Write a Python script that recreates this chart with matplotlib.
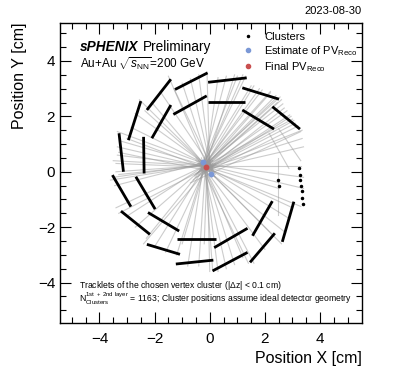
import matplotlib
matplotlib.use("Agg")
import matplotlib.pyplot as plt

plt.rcParams['font.family'] = ['Liberation Sans', 'DejaVu Sans']
plt.rcParams['mathtext.fontset'] = 'custom'
plt.rcParams['mathtext.rm'] = 'Liberation Sans'
plt.rcParams['mathtext.it'] = 'Liberation Sans:italic'
plt.rcParams['mathtext.bf'] = 'Liberation Sans:bold'

# ---------------- cluster ladders (x0, y0, x1, y1) in cm ----------------
lad_x0 = [-1.26, -2.28, -1.32, -2.10, -2.95, -3.29, -2.40, -3.53, -2.68, -3.22, -2.24, -2.28,
          -1.20, -1.23, 0.16, 0.10, 1.55, 1.46, 2.63, -0.06, -0.08, 1.18, 1.18, 2.27]
lad_y0 = [2.97, 2.23, 2.07, 1.21, 1.14, 1.39, 1.26, -0.12, -0.18, -1.42, -1.47, -2.62,
          -2.43, -3.33, -2.74, -3.58, -2.31, -3.27, -2.53, 3.23, 2.51, 3.03, 2.23, 2.35]
lad_x1 = [-0.08, -1.41, -0.11, -1.41, -2.50, -3.13, -2.38, -2.86, -1.98, -2.17, -1.11, -1.08,
          0.22, 0.13, 1.37, 1.37, 2.27, 2.36, 3.05, 1.34, 1.27, 2.51, 2.33, 3.27]
lad_y1 = [3.57, 3.34, 2.74, 2.41, 2.55, 0.00, -0.06, -1.26, -1.35, -2.26, -2.14, -2.98,
          -2.43, -3.19, -2.04, -2.91, -1.06, -2.22, -1.08, 3.39, 2.51, 2.62, 1.54, 1.54]

# isolated clusters
iso_x = [3.24, 3.26, 3.28, 3.30, 3.33, 3.36, 3.39, 2.49, 2.51]
iso_y = [0.12, -0.10, -0.30, -0.50, -0.70, -0.95, -1.18, -0.30, -0.52]

# ---------------- tracklets (start -> end) ----------------
trk_x0 = [-0.3, -0.2, -0.4, -0.2, -0.5, -0.1, -0.3, -0.6, -0.2, -0.4, -0.1, -0.3, -0.5, -0.2, -0.7,
          -0.25, -0.35, -0.15, -0.3, -0.2, -0.45, -0.1, -0.55, -0.2, -0.1, -0.25, -0.15, -0.3, -0.2, -0.3,
          0.0, 0.05, 0.1, 0.0, 0.2, 0.0, 0.1, 0.2, 0.0, 0.1, 0.15, 0.0, 0.2, 0.1, 0.05,
          0.1, 0.0, 0.2, 0.1, 0.0, 0.2, 0.1, 0.0, 0.15, 0.1,
          0.0, 0.1, 0.0, 0.05, -0.05, 0.0, -0.1, 0.1, 0.0, -0.1,
          -0.2, -0.15, -0.1, -0.2, -0.3, -0.25, -0.3, -0.1, -0.2, -0.35,
          -0.3, -0.4, -0.3, -0.5, -0.4, -0.5, -0.45, -0.3, -0.4, -0.2,
          -0.3, -0.3, 2.15, 2.5, 2.49]
trk_y0 = [0.1, 0.2, 0.0, 0.15, -0.1, 0.2, 0.05, -0.3, 0.1, -0.1, 0.25, 0.0, -0.2, 0.1, -0.4,
          0.2, 0.1, 0.3, 0.2, 0.0, -0.05, 0.3, -0.15, 0.3, 0.35, 0.25, 0.3, 0.15, 0.1, 0.05,
          0.1, 0.05, -0.1, 0.15, -0.1, 0.0, 0.1, -0.2, 0.1, 0.0, 0.05, 0.2, 0.0, 0.15, 0.2,
          0.1, 0.2, 0.15, 0.25, 0.3, 0.3, 0.0, 0.25, 0.2, 0.4,
          0.3, 0.4, 0.35, 0.5, 0.4, 0.45, 0.5, 0.3, 0.2, 0.4,
          0.4, 0.3, 0.4, 0.3, 0.5, 0.35, 0.4, 0.2, 0.5, 0.3,
          0.35, 0.4, 0.3, 0.5, 0.3, 0.4, 0.3, 0.2, 0.3, 0.2,
          0.2, 0.3, 1.39, 1.55, 0.5]
trk_x1 = [1.3, 1.6, 1.9, 2.2, 2.4, 2.6, 2.45, 2.7, 2.8, 2.9, 3.0, 3.1, 3.2, 3.35, 3.3,
          2.55, 2.2, 1.8, 1.5, 2.95, 3.05, 2.65, 2.35, 1.2, 0.9, 0.6, 0.3, 1.0, 3.35, 3.4,
          -0.1, -0.4, -0.7, -1.0, -1.3, -1.5, -1.8, -2.1, -2.35, -2.55, -2.7, -2.85, -3.0, -3.2, -3.35,
          -3.35, -3.35, -3.4, -3.4, -3.5, -3.6, -3.3, -3.3, -3.5, -3.45,
          -3.4, -3.0, -2.7, -2.3, -2.0, -1.6, -1.2, -2.4, -3.3, -1.0,
          -0.8, -0.4, 0.0, 0.3, 0.6, 0.9, 1.2, -0.2, 0.1, 1.4,
          1.6, 2.0, 2.3, 2.6, 2.75, 2.9, 3.0, 3.3, 3.4, 2.5,
          3.3, 3.4, 2.87, 3.3, 2.49]
trk_y1 = [3.45, 3.1, 2.95, 2.85, 2.75, 2.6, 2.5, 2.3, 2.2, 2.05, 1.9, 1.75, 1.65, 1.5, 1.45,
          2.7, 2.9, 3.0, 3.1, 2.0, 1.85, 2.45, 2.6, 3.5, 3.5, 3.45, 3.4, 3.45, 1.2, 0.9,
          3.6, 3.5, 3.35, 3.2, 3.0, 3.45, 2.9, 2.5, 2.2, 2.6, 2.1, 1.6, 1.2, 1.1, 1.45,
          0.9, 0.6, 0.3, 0.0, -0.2, -0.3, 0.7, -0.1, 0.4, -0.5,
          -1.3, -1.6, -2.0, -2.4, -2.7, -2.9, -3.0, -2.6, -1.5, -2.6,
          -3.4, -3.4, -3.6, -3.6, -3.5, -3.35, -3.1, -2.6, -3.5, -3.3,
          -3.3, -2.8, -2.3, -2.6, -2.2, -1.7, -1.3, -1.25, -0.6, -0.6,
          0.2, -0.2, 0.12, 0.4, -1.56]

# ---------------- primary vertex ----------------
pv_est_x = [-0.26, 0.04]
pv_est_y = [0.36, -0.08]
pv_fin_x = [-0.14]
pv_fin_y = [0.16]

fig = plt.figure(figsize=(3.93, 3.72), dpi=100)
ax = fig.add_axes([0.1527, 0.1309, 0.7684, 0.808])

for i in range(len(trk_x0)):
    ax.plot([trk_x0[i], trk_x1[i]], [trk_y0[i], trk_y1[i]], color='#9a9a9a', lw=0.8, alpha=0.5, zorder=1)

for i in range(len(lad_x0)):
    ax.plot([lad_x0[i], lad_x1[i]], [lad_y0[i], lad_y1[i]], color='black', lw=2.0,
            solid_capstyle='butt', zorder=2)
ax.plot(iso_x, iso_y, ls='none', marker='o', ms=1.5, color='black', zorder=2)

ax.plot(pv_est_x, pv_est_y, ls='none', marker='o', ms=3.2, color='#7b98d6', zorder=3)
ax.plot(pv_fin_x, pv_fin_y, ls='none', marker='o', ms=3.2, color='#c94f4f', zorder=3)

# legend handles
h1, = ax.plot([], [], ls='none', marker='o', ms=1.5, color='black', label='Clusters')
h2, = ax.plot([], [], ls='none', marker='o', ms=3.0, color='#7b98d6', label=r'Estimate of PV$_{\mathrm{Reco}}$')
h3, = ax.plot([], [], ls='none', marker='o', ms=3.0, color='#c94f4f', label=r'Final PV$_{\mathrm{Reco}}$')
ax.legend(handles=[h1, h2, h3], loc='upper left', bbox_to_anchor=(0.585, 0.985), frameon=False,
          fontsize=8, handlelength=1.2, handletextpad=0.9, labelspacing=0.2, borderaxespad=0)

ax.set_xlim(-5.43, 5.52)
ax.set_ylim(-5.47, 5.38)
ax.set_xticks([-4, -2, 0, 2, 4])
ax.set_yticks([-4, -2, 0, 2, 4])
ax.set_xticklabels(['\u22124', '\u22122', '0', '2', '4'])
ax.set_yticklabels(['\u22124', '\u22122', '0', '2', '4'])
ax.set_xticks([v * 0.5 for v in range(-10, 11)], minor=True)
ax.set_yticks([v * 0.5 for v in range(-10, 11)], minor=True)
ax.tick_params(which='both', direction='in', top=True, right=True, labelsize=11, width=0.8)
ax.tick_params(which='major', length=8)
ax.tick_params(which='minor', length=4)
ax.tick_params(axis='x', pad=6)
for s in ax.spines.values():
    s.set_linewidth(1.0)

ax.set_xlabel('Position X [cm]', fontsize=11.5, loc='right')
ax.set_ylabel('Position Y [cm]', fontsize=11.5, loc='top', labelpad=8)

ax.text(0.066, 0.905, 'sPHENIX', transform=ax.transAxes, fontsize=9.8, fontweight='bold', style='italic')
ax.text(0.275, 0.905, 'Preliminary', transform=ax.transAxes, fontsize=9.8)
ax.text(0.066, 0.85, r'Au+Au $\sqrt{s_{\mathrm{NN}}}$=200 GeV', transform=ax.transAxes, fontsize=8.5)

ax.text(0.063, 0.118, r'Tracklets of the chosen vertex cluster (|$\Delta$z| < 0.1 cm)',
        transform=ax.transAxes, fontsize=6.2)
ax.text(0.063, 0.068, r'N$^{\mathrm{1st\ +\ 2nd\ layer}}_{\mathrm{Clusters}}$ = 1163; Cluster positions assume ideal detector geometry',
        transform=ax.transAxes, fontsize=6.2)

fig.text(0.921, 0.962, '2023-08-30', ha='right', fontsize=8)

fig.savefig('out.png', dpi=100)
